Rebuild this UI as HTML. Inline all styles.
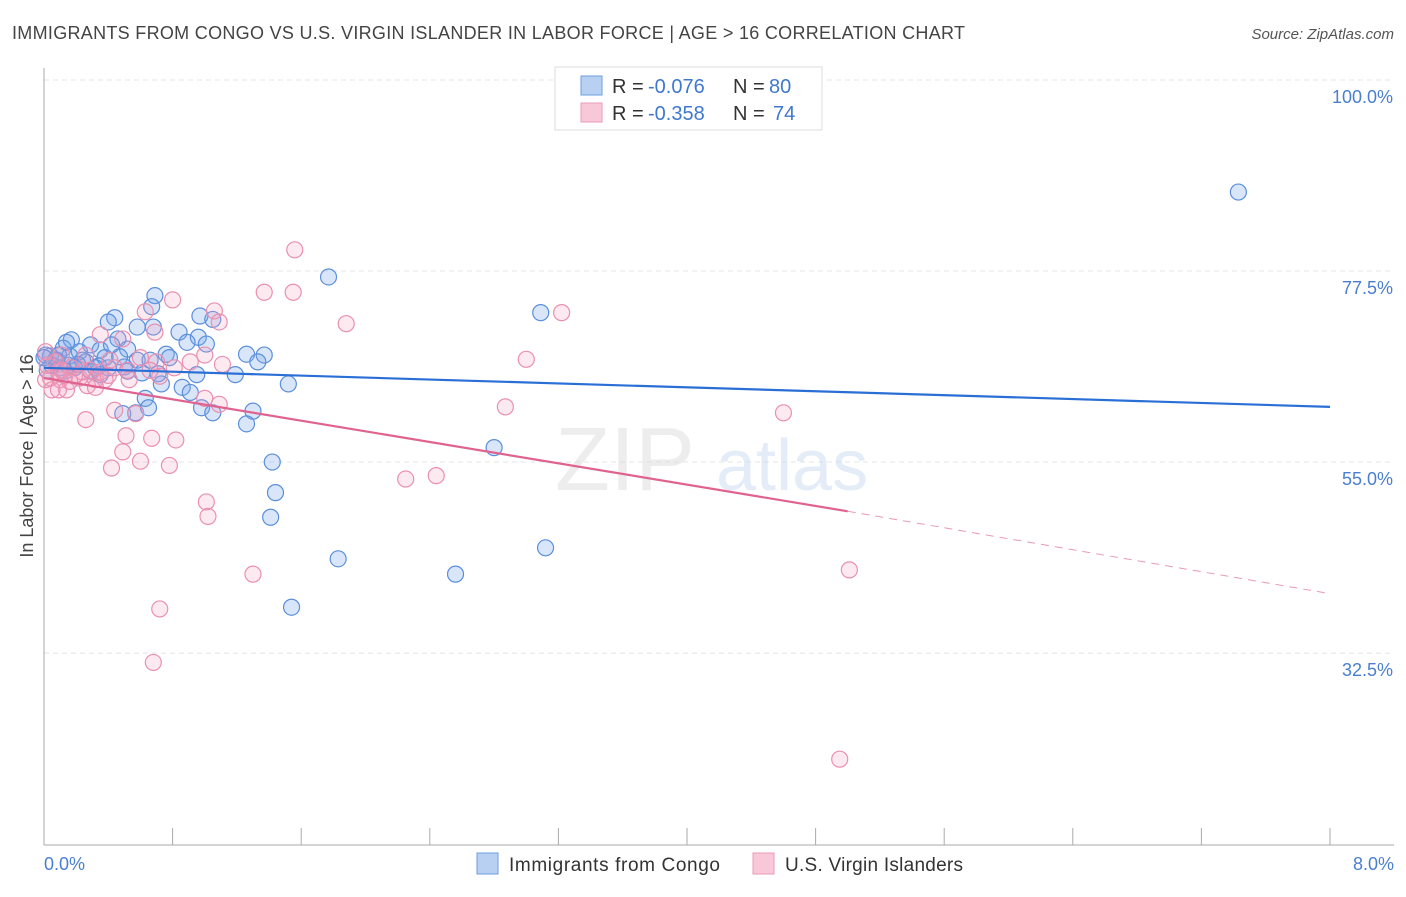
<!DOCTYPE html>
<html><head><meta charset="utf-8"><style>
body{margin:0;background:#fff;font-family:"Liberation Sans",sans-serif;}
svg text{font-family:"Liberation Sans",sans-serif;}
</style></head><body>
<svg id="chart" width="1406" height="892" viewBox="0 0 1406 892" xmlns="http://www.w3.org/2000/svg">
<text x="12" y="39" font-size="18" fill="#444" textLength="953" lengthAdjust="spacing">IMMIGRANTS FROM CONGO VS U.S. VIRGIN ISLANDER IN LABOR FORCE | AGE &gt; 16 CORRELATION CHART</text>
<text x="1394" y="39" font-size="15" fill="#555" text-anchor="end" font-style="italic">Source: ZipAtlas.com</text>
<g id="grid"></g>
<g opacity="0.5">
<text x="555" y="490" font-size="90" fill="#ddd" font-family="Liberation Serif, serif">ZIP</text>
<text x="716" y="490" font-size="72" fill="#c8dbf0">atlas</text></g>
<line x1="44" y1="845" x2="1394" y2="845" stroke="#aaa"/>
<line x1="44" y1="68" x2="44" y2="845" stroke="#aaa"/>
<g id="ticks"></g>
<text transform="translate(33,456) rotate(-90)" font-size="18" fill="#444" text-anchor="middle">In Labor Force | Age &gt; 16</text>
<text x="44" y="870" font-size="18" fill="#4a7fd0">0.0%</text>
<text x="1394" y="870" font-size="18" fill="#4a7fd0" text-anchor="end">8.0%</text>
<g id="pts"></g>
<g id="trends"></g>
<g>
<rect x="555" y="67" width="267" height="63" fill="#fff" stroke="#ddd"/>
<rect x="581" y="76" width="21" height="19" fill="#b8d0f2" stroke="#6d9ee0"/>
<rect x="581" y="103" width="21" height="19" fill="#f8c8d8" stroke="#ea9ab6"/>
<text x="612" y="93" font-size="20" fill="#333">R = </text>
<text x="648" y="93" font-size="20" fill="#3f78d0">-0.076</text>
<text x="733" y="93" font-size="20" fill="#333">N = </text>
<text x="769" y="93" font-size="20" fill="#3f78d0">80</text>
<text x="612" y="120" font-size="20" fill="#333">R = </text>
<text x="648" y="120" font-size="20" fill="#3f78d0">-0.358</text>
<text x="733" y="120" font-size="20" fill="#333">N = </text>
<text x="773" y="120" font-size="20" fill="#3f78d0">74</text>
</g>
<g>
<rect x="477" y="853" width="21" height="21" fill="#b8d0f2" stroke="#6d9ee0"/>
<text x="509" y="871" font-size="19" fill="#333" textLength="211">Immigrants from Congo</text>
<rect x="753" y="853" width="21" height="21" fill="#f8c8d8" stroke="#ea9ab6"/>
<text x="785" y="871" font-size="19" fill="#333" textLength="178">U.S. Virgin Islanders</text>
</g>
</svg>
<script>
const yTicks=[100,77.5,55,32.5];
const yTickLabels=["100.0%","77.5%","55.0%","32.5%"];
const xTicks=[0,0.8,1.6,2.4,3.2,4.0,4.8,5.6,6.4,7.2,8.0];
const blueX=[7.43,1.77,.69,.67,3.09,.44,.40,.97,1.05,.58,.68,.17,.84,.96,1.01,.46,.29,.52,.12,.04,.22,.35,.76,.89,1.26,1.37,1.33,.47,.58,.78,.08,.15,.34,.50,.61,.71,.95,1.19,.73,.86,1.52,.91,.63,.65,.49,.57,.98,1.05,1.30,1.26,2.80,1.42,1.44,1.41,3.12,1.83,2.56,1.54,.07,.10,.19,.26,.40,.01,.05,.13,.29,.38,.66,.02,.09,.16,.24,.32,.42,.52,.14,0,.35,.21];
const blueY=[86.8,76.8,74.6,73.3,72.6,72.0,71.5,72.2,71.8,70.9,70.9,69.4,70.3,69.7,68.9,69.5,68.8,68.3,68.4,67.5,68.0,68.2,67.7,69.1,67.7,67.6,66.8,67.4,67.0,67.3,67.0,66.4,66.3,66.2,65.5,65.4,65.3,65.3,64.2,63.8,64.2,63.2,62.5,61.4,60.7,60.8,61.4,60.8,61.0,59.5,56.7,55.0,51.4,48.5,44.9,43.6,41.8,37.9,67.0,66.1,66.1,66.8,66.1,67.6,66.4,65.7,65.7,67.3,67.0,65.8,67.6,67.5,67.0,66.1,68.8,65.7,69.1,67.3,65.3,66.5];
const pinkX=[1.56,1.37,1.55,.80,1.06,.63,1.09,1.88,3.22,.69,3.00,.49,.35,1.00,1.11,.11,.26,.60,.70,.91,.44,.52,.01,.07,.17,.04,.10,.22,.32,.38,.14,.05,.27,.72,1.00,1.09,2.87,4.60,.44,.57,.26,.51,.67,.82,.49,.60,.42,.78,2.25,2.44,1.01,1.02,1.30,5.01,.72,.68,4.95,.02,.09,.13,.19,.29,.35,.40,.01,.16,.24,.32,.41,.53,.09,.66,.81,.11];
const pinkY=[80.0,75.0,75.0,74.1,72.8,72.7,71.5,71.3,72.6,70.3,67.1,69.5,70.0,67.6,66.5,67.6,67.6,67.3,66.8,66.8,66.1,65.8,68.0,66.8,66.1,64.9,64.7,64.9,64.7,64.7,63.5,63.5,64.0,65.1,62.5,61.8,61.5,60.8,61.1,60.7,60.0,58.1,57.8,57.6,56.2,55.1,54.3,54.6,53.0,53.4,50.3,48.6,41.8,42.3,37.7,31.4,20.0,66.4,65.6,65.2,65.2,65.8,65.6,65.2,64.7,64.5,65.6,63.8,67.0,64.7,63.5,65.8,66.1,65.8];
const blueTrend=[[0,66.1],[8,61.5]];
const pinkTrend=[[0,64.9],[5.0,49.2]];
const pinkTrendDash=[[5.0,49.2],[8,39.5]];
const NS="http://www.w3.org/2000/svg";
const xs=v=>44+v/8*1286;
const ys=v=>80+(100-v)*8.49;
function mk(t,a,p){const e=document.createElementNS(NS,t);for(const k in a)e.setAttribute(k,a[k]);p.appendChild(e);return e;}
const grid=document.getElementById('grid'),ticks=document.getElementById('ticks');
yTicks.forEach((v,i)=>{
 const l=mk('line',{x1:44,x2:1394,y1:ys(v),y2:ys(v),stroke:'#e4e4e4','stroke-dasharray':'5,4'},grid);
 
 
 const t=mk('text',{x:1393,y:ys(v)+23,'font-size':18,fill:'#4a7fd0','text-anchor':'end'},ticks);
 t.textContent=yTickLabels[i];
 
 
});
xTicks.forEach(v=>{
 const l=mk('line',{x1:xs(v),x2:xs(v),y1:828,y2:845,stroke:'#aaa'},grid);
 
 
});
const pts=document.getElementById('pts');
blueX.forEach((x,i)=>{
 const c=mk('circle',{cx:xs(x),cy:ys(blueY[i]),r:8,fill:'rgba(120,165,235,0.28)',stroke:'#5b8fdc','stroke-width':1.2},pts);
 
 
});
pinkX.forEach((x,i)=>{
 const c=mk('circle',{cx:xs(x),cy:ys(pinkY[i]),r:8,fill:'rgba(245,160,190,0.22)',stroke:'#ea8fb0','stroke-width':1.2},pts);
 
 
});
const tr=document.getElementById('trends');
const b=mk('line',{x1:xs(blueTrend[0][0]),y1:ys(blueTrend[0][1]),x2:xs(blueTrend[1][0]),y2:ys(blueTrend[1][1]),stroke:'#2a6fd6','stroke-width':2.2},tr);


const p=mk('line',{x1:xs(pinkTrend[0][0]),y1:ys(pinkTrend[0][1]),x2:xs(pinkTrend[1][0]),y2:ys(pinkTrend[1][1]),stroke:'#e0628f','stroke-width':2.2},tr);


const pd=mk('line',{x1:xs(pinkTrendDash[0][0]),y1:ys(pinkTrendDash[0][1]),x2:xs(pinkTrendDash[1][0]),y2:ys(pinkTrendDash[1][1]),stroke:'#e89ab6','stroke-width':1,'stroke-dasharray':'8,6'},tr);


</script>
</body></html>
